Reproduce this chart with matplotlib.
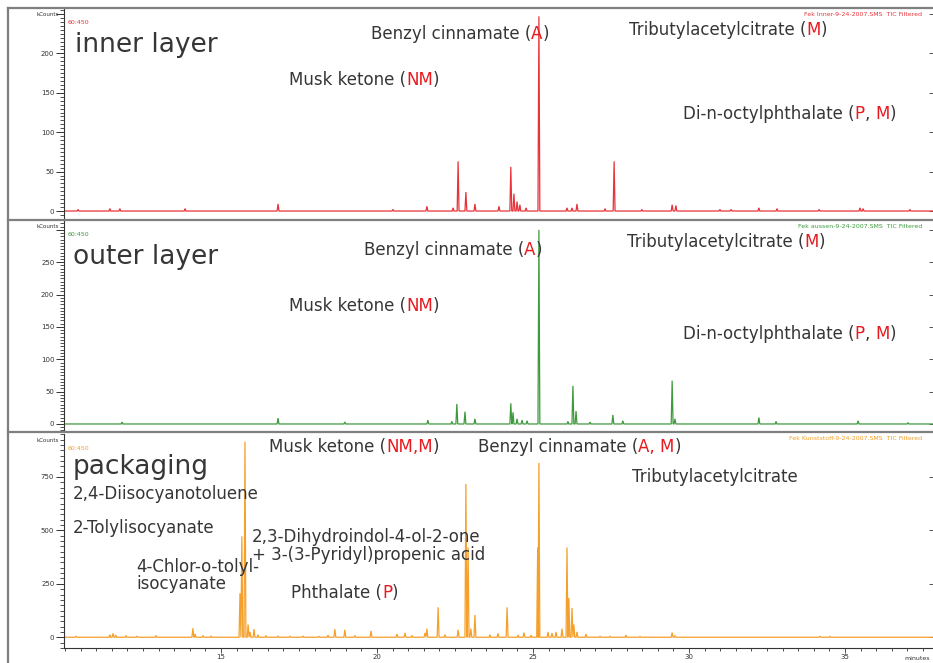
import matplotlib
matplotlib.use("Agg")
import matplotlib.pyplot as plt
from matplotlib.lines import Line2D
from matplotlib.ticker import MultipleLocator, FixedLocator
from matplotlib.transforms import IdentityTransform

plt.rcParams.update({
    "font.family": "DejaVu Sans",
    "font.size": 12,
})

W, H = 933, 663
XMIN, XMAX = 9.97, 37.82
TEXT = "#363636"
RED = "#e8191f"

# retention time (minutes) and peak height (kCounts)
INNER_TIME = [10.42, 11.44, 11.76, 13.85, 16.83, 20.51, 21.60, 22.44, 22.60, 22.85,
              23.14, 23.91, 24.29, 24.39, 24.49, 24.58, 24.78, 25.19, 26.09, 26.25,
              26.41, 27.31, 27.60, 28.49, 29.46, 29.58, 30.99, 31.35, 32.24, 32.82,
              34.17, 35.48, 35.58, 37.08]
INNER_HEIGHT = [2, 3, 3, 3, 9, 2, 6, 4, 63, 24,
                9, 6, 56, 22, 12, 8, 4, 247, 4, 4,
                9, 3, 63, 2, 8, 7, 2, 2, 4, 3,
                2, 4, 3, 2]

OUTER_TIME = [11.83, 16.83, 18.97, 21.63, 22.40, 22.56, 22.82, 23.14, 24.29, 24.36,
              24.49, 24.65, 24.81, 25.19, 26.12, 26.28, 26.38, 26.83, 27.56, 27.88,
              29.46, 29.55, 32.24, 32.79, 35.42, 37.02]
OUTER_HEIGHT = [3, 9, 3, 6, 4, 31, 19, 8, 32, 18,
                8, 6, 5, 300, 4, 59, 20, 3, 14, 5,
                67, 8, 10, 4, 5, 2]

PACK_TIME = [10.35, 11.44, 11.54, 11.63, 11.96, 12.31, 12.92, 14.10, 14.17, 14.42,
             14.68, 15.61, 15.67, 15.77, 15.87, 15.93, 16.06, 16.19, 16.44, 16.83,
             17.21, 17.63, 18.14, 18.43, 18.65, 18.97, 19.29, 19.81, 20.64, 20.90,
             21.12, 21.54, 21.60, 21.96, 22.18, 22.60, 22.85, 22.92, 23.01, 23.14,
             23.62, 23.88, 24.17, 24.52, 24.71, 24.94, 25.15, 25.19, 25.48, 25.61,
             25.74, 25.93, 26.09, 26.15, 26.25, 26.31, 26.41, 26.70, 27.15, 27.47,
             27.98, 28.43, 29.46, 29.55, 34.20, 34.52]
PACK_HEIGHT = [5, 12, 18, 10, 8, 5, 8, 42, 15, 8,
               6, 206, 472, 915, 60, 25, 38, 12, 8, 6,
               5, 6, 4, 10, 38, 35, 8, 30, 15, 20,
               8, 20, 40, 140, 12, 35, 717, 420, 40, 104,
               12, 18, 140, 10, 22, 10, 420, 816, 25, 20,
               25, 40, 420, 184, 137, 60, 25, 15, 5, 5,
               10, 4, 22, 8, 5, 4]

PANELS = [
    dict(time=INNER_TIME, height=INNER_HEIGHT, color="#e8333a", top=8, bottom=220,
         ylim=(-11.4, 257.6), major=50, minor=5, ticks=[0, 50, 100, 150, 200, 250],
         header="Fek Inner-9-24-2007.SMS  TIC Filtered", head_y=14, scan_y=22, kc_y=14),
    dict(time=OUTER_TIME, height=OUTER_HEIGHT, color="#3f9a3f", top=220, bottom=432,
         ylim=(-12.4, 315.3), major=50, minor=5, ticks=[0, 50, 100, 150, 200, 250, 300],
         header="Fek aussen-9-24-2007.SMS  TIC Filtered", head_y=226, scan_y=235, kc_y=226),
    dict(time=PACK_TIME, height=PACK_HEIGHT, color="#f5a02a", top=434, bottom=648,
         ylim=(-50.3, 951), major=250, minor=25, ticks=[0, 250, 500, 750],
         header="Fek Kunststoff-9-24-2007.SMS  TIC Filtered", head_y=439, scan_y=448, kc_y=440),
]

# (x px, baseline px, size, [(text, colour), ...])
LABELS = [
    (75, 52, 19, [("inner layer", TEXT)]),
    (371, 39, 12, [("Benzyl cinnamate (", TEXT), ("A", RED), (")", TEXT)]),
    (289, 85, 12, [("Musk ketone (", TEXT), ("NM", RED), (")", TEXT)]),
    (629, 35, 12, [("Tributylacetylcitrate (", TEXT), ("M", RED), (")", TEXT)]),
    (683, 119, 12, [("Di-n-octylphthalate (", TEXT), ("P", RED), (", ", TEXT), ("M", RED), (")", TEXT)]),
    (73, 264, 19, [("outer layer", TEXT)]),
    (364, 255, 12, [("Benzyl cinnamate (", TEXT), ("A", RED), (")", TEXT)]),
    (289, 311, 12, [("Musk ketone (", TEXT), ("NM", RED), (")", TEXT)]),
    (627, 247, 12, [("Tributylacetylcitrate (", TEXT), ("M", RED), (")", TEXT)]),
    (683, 339, 12, [("Di-n-octylphthalate (", TEXT), ("P", RED), (", ", TEXT), ("M", RED), (")", TEXT)]),
    (73, 474, 19, [("packaging", TEXT)]),
    (73, 499, 12, [("2,4-Diisocyanotoluene", TEXT)]),
    (73, 533, 12, [("2-Tolylisocyanate", TEXT)]),
    (136, 572, 12, [("4-Chlor-o-tolyl-", TEXT)]),
    (136, 589, 12, [("isocyanate", TEXT)]),
    (252, 542, 12, [("2,3-Dihydroindol-4-ol-2-one", TEXT)]),
    (252, 560, 12, [("+ 3-(3-Pyridyl)propenic acid", TEXT)]),
    (269, 452, 12, [("Musk ketone (", TEXT), ("NM,M", RED), (")", TEXT)]),
    (478, 452, 12, [("Benzyl cinnamate (", TEXT), ("A, M", RED), (")", TEXT)]),
    (632, 482, 12, [("Tributylacetylcitrate", TEXT)]),
    (291, 598, 12, [("Phthalate (", TEXT), ("P", RED), (")", TEXT)]),
]


def trace(times, heights, half_width=0.03):
    x, y = [XMIN], [0]
    for t, h in zip(times, heights):
        x += [t - half_width, t, t + half_width]
        y += [0, h, 0]
    x.append(XMAX)
    y.append(0)
    return x, y


def text_width(renderer, s, size):
    # width including trailing spaces: measure with a bar appended
    prop = matplotlib.font_manager.FontProperties(family="DejaVu Sans", size=size)
    w1 = renderer.get_text_width_height_descent(s + "|", prop, ismath=False)[0]
    w2 = renderer.get_text_width_height_descent("|", prop, ismath=False)[0]
    return w1 - w2


def px_text(fig, x, y, s, **kw):
    return fig.text(x, H - y, s, transform=IdentityTransform(), **kw)


def setup_panel(fig, p, last):
    ax = fig.add_axes([64 / W, 1 - p["bottom"] / H, (W - 64) / W, (p["bottom"] - p["top"]) / H])
    ax.patch.set_alpha(0)
    x, y = trace(p["time"], p["height"])
    ax.plot(x, y, color=p["color"], lw=0.9, solid_joinstyle="miter")
    ax.set_xlim(XMIN, XMAX)
    ax.set_ylim(*p["ylim"])

    for s in ["top", "right"]:
        ax.spines[s].set_visible(False)
    ax.spines["left"].set_color("#333333")
    ax.spines["left"].set_linewidth(0.8)

    ax.yaxis.set_major_locator(FixedLocator(p["ticks"]))
    ax.yaxis.set_minor_locator(MultipleLocator(p["minor"]))
    labels = [str(v) for v in p["ticks"]]
    if len(p["ticks"]) > 4:
        labels[-1] = ""
    ax.set_yticklabels(labels)
    ax.tick_params(axis="y", which="major", direction="out", length=5.5, width=0.7,
                   labelsize=5, colors="#333333", pad=1.5)
    ax.tick_params(axis="y", which="minor", direction="out", length=2.8, width=0.6, colors="#333333")

    sec = ax.secondary_yaxis("right")
    sec.set_yticks(p["ticks"])
    sec.tick_params(direction="in", length=3, width=0.7, labelright=False, colors="#555555")
    sec.spines["right"].set_visible(False)

    if last:
        ax.spines["bottom"].set_color("#333333")
        ax.spines["bottom"].set_linewidth(0.8)
        ax.xaxis.set_major_locator(FixedLocator([15, 20, 25, 30, 35]))
        ax.xaxis.set_minor_locator(MultipleLocator(0.5))
        ax.tick_params(axis="x", which="major", direction="out", length=3.5, width=0.6,
                       labelsize=5, colors="#333333", pad=1)
        ax.tick_params(axis="x", which="minor", direction="out", length=1.8, width=0.6, colors="#333333")
    else:
        ax.spines["bottom"].set_visible(False)
        ax.set_xticks([])

    px_text(fig, 68, p["scan_y"], "60:450", fontsize=4.5, color=p["color"], va="center")
    px_text(fig, 922, p["head_y"], p["header"], fontsize=4.5, color=p["color"], va="center", ha="right")
    px_text(fig, 59, p["kc_y"], "kCounts", fontsize=4, color="#333333", va="center", ha="right")
    return ax


def main():
    fig = plt.figure(figsize=(W / 100, H / 100), dpi=100)
    fig.patch.set_facecolor("white")

    for i, p in enumerate(PANELS):
        setup_panel(fig, p, i == len(PANELS) - 1)

    # grey frame around the panels
    frame = dict(color="#7f7f7f", lw=1.6, transform=IdentityTransform())
    for yy in [8, 220, 432]:
        fig.add_artist(Line2D([8, W], [H - yy, H - yy], **frame))
    fig.add_artist(Line2D([8, 8], [0, H - 8], **frame))

    px_text(fig, 930, 658, "minutes", fontsize=4.5, color="#333333", va="center", ha="right")

    renderer = fig.canvas.get_renderer()
    for x0, y0, size, parts in LABELS:
        done = ""
        for piece, color in parts:
            dx = text_width(renderer, done, size) if done else 0
            px_text(fig, x0 + dx, y0, piece, fontsize=size, color=color, va="baseline")
            done += piece

    fig.savefig("out.png", dpi=100)


if __name__ == "__main__":
    main()
